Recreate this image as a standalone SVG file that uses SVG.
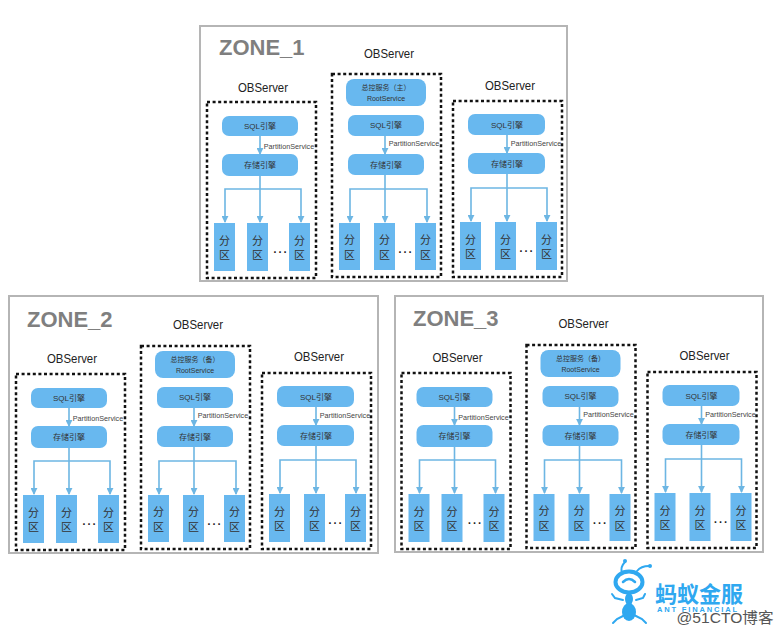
<svg xmlns="http://www.w3.org/2000/svg" width="783" height="634" viewBox="0 0 783 634">
<defs>
<marker id="arrow" viewBox="0 0 8 8" refX="7" refY="4" markerWidth="7" markerHeight="7" markerUnits="userSpaceOnUse" orient="auto"><path d="M0 0L8 4L0 8Z" fill="#6db6e3"/></marker>
</defs>
<style>
text{font-family:"Liberation Sans","Noto Sans CJK SC",sans-serif;text-anchor:middle;fill:#333}
.zone{fill:#fff;stroke:#b5b5b5;stroke-width:2}
.title{font-size:22px;font-weight:bold;fill:#7f7f7f;text-anchor:start}
.ob{font-size:13.500px;fill:#222}
.box{fill:none;stroke:#111;stroke-width:2.5;stroke-dasharray:3 2.6}
.pill{fill:#68b8ef}
.part{fill:#68b8ef}
.t8{font-size:8px}
.t7{font-size:7px}
.ps{font-size:7.2px;fill:#444}
.pt{font-size:11px}
.dots{font-size:16px;fill:#222}
.ca{fill:none;stroke:#6db6e3;stroke-width:1.6;marker-end:url(#arrow)}
</style>

<g id="zone1">
<rect class="zone" x="200" y="26" width="367" height="255"/>
<text class="title" x="219" y="55">ZONE_1</text>
<g id="z1-server1" transform="translate(207,102)">
<text class="ob" x="56" y="-10" textLength="50" lengthAdjust="spacingAndGlyphs">OBServer</text>
<rect class="box" width="109" height="176"/>
<rect class="pill" x="15" y="14" width="76" height="20" rx="7"/><text class="t8" x="53" y="27">SQL引擎</text>
<rect class="pill" x="15" y="52" width="76" height="22" rx="7"/><text class="t8" x="53" y="66">存储引擎</text>
<text class="ps" x="82" y="47">PartitionService</text>
<rect class="part" x="7" y="121" width="21" height="48"/><text class="pt" x="17.500" y="143">分</text><text class="pt" x="17.500" y="157">区</text>
<rect class="part" x="40" y="121" width="21" height="48"/><text class="pt" x="50.500" y="143">分</text><text class="pt" x="50.500" y="157">区</text>
<rect class="part" x="82" y="121" width="21" height="48"/><text class="pt" x="92.500" y="143">分</text><text class="pt" x="92.500" y="157">区</text>
<text class="dots" x="73" y="151">…</text>
</g>
<g id="z1-server2" transform="translate(332,74)">
<text class="ob" x="57" y="-16" textLength="50" lengthAdjust="spacingAndGlyphs">OBServer</text>
<rect class="box" width="109" height="203"/>
<rect class="pill" x="14" y="5" width="80" height="27" rx="8"/><text class="t7" x="54" y="16">总控服务（主）</text><text class="t7" x="54" y="27">RootService</text>
<rect class="pill" x="16" y="41" width="76" height="21" rx="7"/><text class="t8" x="54" y="54">SQL引擎</text>
<rect class="pill" x="16" y="80" width="76" height="21" rx="7"/><text class="t8" x="54" y="94">存储引擎</text>
<text class="ps" x="82" y="72">PartitionService</text>
<rect class="part" x="7" y="149" width="21" height="47"/><text class="pt" x="17.500" y="170">分</text><text class="pt" x="17.500" y="185">区</text>
<rect class="part" x="42" y="149" width="21" height="47"/><text class="pt" x="52.500" y="170">分</text><text class="pt" x="52.500" y="185">区</text>
<rect class="part" x="83" y="149" width="21" height="47"/><text class="pt" x="93.500" y="170">分</text><text class="pt" x="93.500" y="185">区</text>
<text class="dots" x="73" y="179">…</text>
</g>
<g id="z1-server3" transform="translate(453,101)">
<text class="ob" x="57" y="-11" textLength="50" lengthAdjust="spacingAndGlyphs">OBServer</text>
<rect class="box" width="109" height="176"/>
<rect class="pill" x="15" y="13" width="77" height="21" rx="7"/><text class="t8" x="54" y="27">SQL引擎</text>
<rect class="pill" x="15" y="52" width="77" height="21" rx="7"/><text class="t8" x="54" y="66">存储引擎</text>
<text class="ps" x="83" y="45">PartitionService</text>
<rect class="part" x="7" y="121" width="21" height="48"/><text class="pt" x="17.500" y="143">分</text><text class="pt" x="17.500" y="157">区</text>
<rect class="part" x="42" y="121" width="21" height="48"/><text class="pt" x="52.500" y="143">分</text><text class="pt" x="52.500" y="157">区</text>
<rect class="part" x="83" y="121" width="21" height="48"/><text class="pt" x="93.500" y="143">分</text><text class="pt" x="93.500" y="157">区</text>
<text class="dots" x="73" y="151">…</text>
</g>
</g>

<g id="zone2" transform="translate(-191,272)">
<rect class="zone" x="200" y="24" width="369" height="257"/>
<text class="title" x="218" y="55">ZONE_2</text>
<g id="z2-server1" transform="translate(207,102)">
<text class="ob" x="56" y="-11" textLength="50" lengthAdjust="spacingAndGlyphs">OBServer</text>
<rect class="box" width="109" height="176"/>
<rect class="pill" x="15" y="14" width="76" height="20" rx="7"/><text class="t8" x="53" y="27">SQL引擎</text>
<rect class="pill" x="15" y="52" width="76" height="22" rx="7"/><text class="t8" x="53" y="66">存储引擎</text>
<text class="ps" x="82" y="47">PartitionService</text>
<rect class="part" x="7" y="121" width="21" height="48"/><text class="pt" x="17.500" y="143">分</text><text class="pt" x="17.500" y="157">区</text>
<rect class="part" x="40" y="121" width="21" height="48"/><text class="pt" x="50.500" y="143">分</text><text class="pt" x="50.500" y="157">区</text>
<rect class="part" x="82" y="121" width="21" height="48"/><text class="pt" x="92.500" y="143">分</text><text class="pt" x="92.500" y="157">区</text>
<text class="dots" x="73" y="151">…</text>
</g>
<g id="z2-server2" transform="translate(332,74)">
<text class="ob" x="57" y="-17" textLength="50" lengthAdjust="spacingAndGlyphs">OBServer</text>
<rect class="box" width="109" height="203"/>
<rect class="pill" x="14" y="5" width="80" height="27" rx="8"/><text class="t7" x="54" y="16">总控服务（备）</text><text class="t7" x="54" y="27">RootService</text>
<rect class="pill" x="16" y="41" width="76" height="21" rx="7"/><text class="t8" x="54" y="54">SQL引擎</text>
<rect class="pill" x="16" y="80" width="76" height="21" rx="7"/><text class="t8" x="54" y="94">存储引擎</text>
<text class="ps" x="82" y="72">PartitionService</text>
<rect class="part" x="7" y="149" width="21" height="47"/><text class="pt" x="17.500" y="170">分</text><text class="pt" x="17.500" y="185">区</text>
<rect class="part" x="42" y="149" width="21" height="47"/><text class="pt" x="52.500" y="170">分</text><text class="pt" x="52.500" y="185">区</text>
<rect class="part" x="83" y="149" width="21" height="47"/><text class="pt" x="93.500" y="170">分</text><text class="pt" x="93.500" y="185">区</text>
<text class="dots" x="73" y="179">…</text>
</g>
<g id="z2-server3" transform="translate(453,101)">
<text class="ob" x="57" y="-12" textLength="50" lengthAdjust="spacingAndGlyphs">OBServer</text>
<rect class="box" width="109" height="176"/>
<rect class="pill" x="15" y="13" width="77" height="21" rx="7"/><text class="t8" x="54" y="27">SQL引擎</text>
<rect class="pill" x="15" y="52" width="77" height="21" rx="7"/><text class="t8" x="54" y="66">存储引擎</text>
<text class="ps" x="83" y="45">PartitionService</text>
<rect class="part" x="7" y="121" width="21" height="48"/><text class="pt" x="17.500" y="143">分</text><text class="pt" x="17.500" y="157">区</text>
<rect class="part" x="42" y="121" width="21" height="48"/><text class="pt" x="52.500" y="143">分</text><text class="pt" x="52.500" y="157">区</text>
<rect class="part" x="83" y="121" width="21" height="48"/><text class="pt" x="93.500" y="143">分</text><text class="pt" x="93.500" y="157">区</text>
<text class="dots" x="73" y="151">…</text>
</g>
</g>

<g id="zone3" transform="translate(194.500,271)">
<rect class="zone" x="200.500" y="25" width="368" height="256"/>
<text class="title" x="218.500" y="55">ZONE_3</text>
<g id="z3-server1" transform="translate(207,102)">
<text class="ob" x="56" y="-11" textLength="50" lengthAdjust="spacingAndGlyphs">OBServer</text>
<rect class="box" width="109" height="176"/>
<rect class="pill" x="15" y="14" width="76" height="20" rx="7"/><text class="t8" x="53" y="27">SQL引擎</text>
<rect class="pill" x="15" y="52" width="76" height="22" rx="7"/><text class="t8" x="53" y="66">存储引擎</text>
<text class="ps" x="82" y="47">PartitionService</text>
<rect class="part" x="7" y="121" width="21" height="48"/><text class="pt" x="17.500" y="143">分</text><text class="pt" x="17.500" y="157">区</text>
<rect class="part" x="40" y="121" width="21" height="48"/><text class="pt" x="50.500" y="143">分</text><text class="pt" x="50.500" y="157">区</text>
<rect class="part" x="82" y="121" width="21" height="48"/><text class="pt" x="92.500" y="143">分</text><text class="pt" x="92.500" y="157">区</text>
<text class="dots" x="73" y="151">…</text>
</g>
<g id="z3-server2" transform="translate(332,74)">
<text class="ob" x="57" y="-17" textLength="50" lengthAdjust="spacingAndGlyphs">OBServer</text>
<rect class="box" width="109" height="203"/>
<rect class="pill" x="14" y="5" width="80" height="27" rx="8"/><text class="t7" x="54" y="16">总控服务（备）</text><text class="t7" x="54" y="27">RootService</text>
<rect class="pill" x="16" y="41" width="76" height="21" rx="7"/><text class="t8" x="54" y="54">SQL引擎</text>
<rect class="pill" x="16" y="80" width="76" height="21" rx="7"/><text class="t8" x="54" y="94">存储引擎</text>
<text class="ps" x="82" y="72">PartitionService</text>
<rect class="part" x="7" y="149" width="21" height="47"/><text class="pt" x="17.500" y="170">分</text><text class="pt" x="17.500" y="185">区</text>
<rect class="part" x="42" y="149" width="21" height="47"/><text class="pt" x="52.500" y="170">分</text><text class="pt" x="52.500" y="185">区</text>
<rect class="part" x="83" y="149" width="21" height="47"/><text class="pt" x="93.500" y="170">分</text><text class="pt" x="93.500" y="185">区</text>
<text class="dots" x="73" y="179">…</text>
</g>
<g id="z3-server3" transform="translate(453,101)">
<text class="ob" x="57" y="-12" textLength="50" lengthAdjust="spacingAndGlyphs">OBServer</text>
<rect class="box" width="109" height="176"/>
<rect class="pill" x="15" y="13" width="77" height="21" rx="7"/><text class="t8" x="54" y="27">SQL引擎</text>
<rect class="pill" x="15" y="52" width="77" height="21" rx="7"/><text class="t8" x="54" y="66">存储引擎</text>
<text class="ps" x="83" y="45">PartitionService</text>
<rect class="part" x="7" y="121" width="21" height="48"/><text class="pt" x="17.500" y="143">分</text><text class="pt" x="17.500" y="157">区</text>
<rect class="part" x="42" y="121" width="21" height="48"/><text class="pt" x="52.500" y="143">分</text><text class="pt" x="52.500" y="157">区</text>
<rect class="part" x="83" y="121" width="21" height="48"/><text class="pt" x="93.500" y="143">分</text><text class="pt" x="93.500" y="157">区</text>
<text class="dots" x="73" y="151">…</text>
</g>
</g>

<g id="connectors">
<g id="z1-links">
<path class="ca" d="M260 136V154"/><path class="ca" d="M260 176V222"/><path class="ca" d="M260 189H225V222"/><path class="ca" d="M260 189H301V222"/>
<path class="ca" d="M385 136V154"/><path class="ca" d="M385 175V222"/><path class="ca" d="M385 189H350V222"/><path class="ca" d="M385 189H427V222"/>
<path class="ca" d="M507 135V153"/><path class="ca" d="M507 174V221"/><path class="ca" d="M507 188H471V221"/><path class="ca" d="M507 188H547V221"/>
</g>
<g id="z2-links" transform="translate(-191,272)">
<path class="ca" d="M260 136V154"/><path class="ca" d="M260 176V222"/><path class="ca" d="M260 189H225V222"/><path class="ca" d="M260 189H301V222"/>
<path class="ca" d="M385 136V154"/><path class="ca" d="M385 175V222"/><path class="ca" d="M385 189H350V222"/><path class="ca" d="M385 189H427V222"/>
<path class="ca" d="M507 135V153"/><path class="ca" d="M507 174V221"/><path class="ca" d="M507 188H471V221"/><path class="ca" d="M507 188H547V221"/>
</g>
<g id="z3-links" transform="translate(194.500,271)">
<path class="ca" d="M260 136V154"/><path class="ca" d="M260 176V222"/><path class="ca" d="M260 189H225V222"/><path class="ca" d="M260 189H301V222"/>
<path class="ca" d="M385 136V154"/><path class="ca" d="M385 175V222"/><path class="ca" d="M385 189H350V222"/><path class="ca" d="M385 189H427V222"/>
<path class="ca" d="M507 135V153"/><path class="ca" d="M507 174V221"/><path class="ca" d="M507 188H471V221"/><path class="ca" d="M507 188H547V221"/>
</g>
</g>

<g id="logo">
<g fill="none" stroke="#2fa8f0" stroke-linecap="round">
<path stroke-width="2" d="M622 573Q620 567 625 562"/>
<path stroke-width="2" d="M637 571Q641 566 649 566"/>
<path stroke-width="2" d="M623 600L615 598L612 594M636 600L643 598L645 594"/>
<path stroke-width="2" d="M625 615L617 619L613 623M634 615L642 619L646 623"/>
<ellipse cx="629" cy="582" rx="13.500" ry="10.500" fill="#fff" stroke-width="4"/>
<path stroke-width="2.500" d="M623 582Q629 576 635 582"/>
</g>
<circle cx="625" cy="561" r="2" fill="#2fa8f0"/>
<circle cx="650" cy="566" r="2" fill="#2fa8f0"/>
<ellipse cx="629" cy="599" rx="4" ry="6" fill="#2fa8f0"/>
<ellipse cx="629" cy="612" rx="7" ry="9" fill="#2fa8f0"/>
<text x="699" y="602" font-size="22" font-weight="bold" style="fill:#2fa8f0" textLength="88" lengthAdjust="spacingAndGlyphs">蚂蚁金服</text>
<text x="697" y="612" font-size="7.500" font-weight="bold" style="fill:#2fa8f0" textLength="80">ANT FINANCIAL</text>
</g>
<text id="watermark" x="725" y="623" font-size="15" style="fill:#555" textLength="97" lengthAdjust="spacingAndGlyphs">@51CTO博客</text>
</svg>
